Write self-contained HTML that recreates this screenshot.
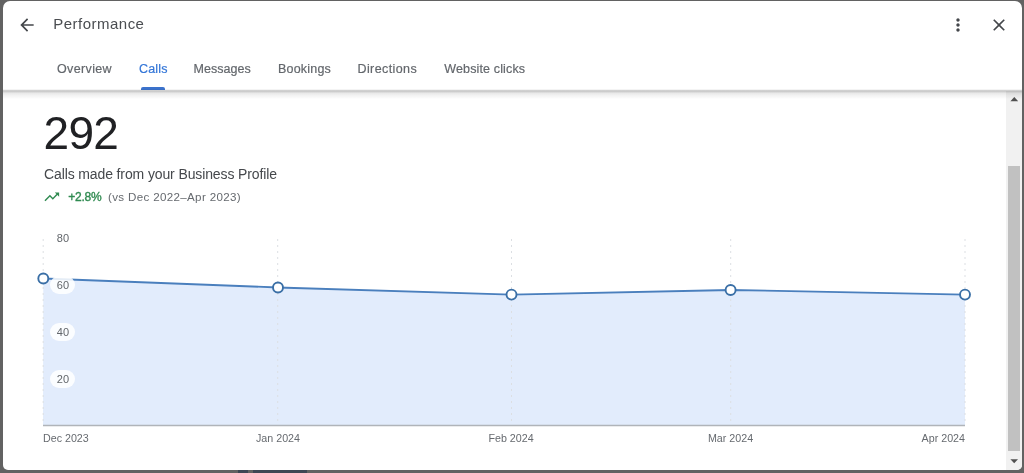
<!DOCTYPE html>
<html><head><meta charset="utf-8">
<style>
*{box-sizing:border-box;margin:0;padding:0}
html,body{width:1024px;height:473px;overflow:hidden;background:#626262;font-family:"Liberation Sans",sans-serif;}
#modal{will-change:transform;position:absolute;left:3px;top:1px;width:1019px;height:469px;background:#fff;border-radius:7px 7px 5px 5px;overflow:hidden}
.abs{position:absolute;white-space:nowrap}
#title{left:50.300px;top:13.300px;font-size:15px;color:#4a4d51;line-height:20px;letter-spacing:0.480px}
.tab{top:60px;font-size:12.500px;line-height:16px;color:#63676c;-webkit-text-stroke:0.200px #63676c}
#hdrline{left:0;top:88px;width:1019px;height:10px;z-index:5;background:linear-gradient(rgba(0,0,0,0) 0%,rgba(0,0,0,0.080) 9%,rgba(0,0,0,0.200) 16%,rgba(0,0,0,0.200) 25%,rgba(0,0,0,0.090) 42%,rgba(0,0,0,0.050) 62%,rgba(0,0,0,0.020) 88%,rgba(0,0,0,0) 100%)}
#ul{left:138px;top:86.200px;width:24px;height:3px;background:#3b72cc;border-radius:2px 2px 0 0}
#big{left:40.500px;top:105.300px;font-size:46px;line-height:54px;color:#202124;letter-spacing:-0.700px}
#sub{left:41px;top:164px;font-size:14px;line-height:18px;color:#45484c;letter-spacing:-0.120px}
#pct{left:65.300px;top:188.500px;font-size:12px;line-height:14px;color:#2f8a50;-webkit-text-stroke:0.350px #2f8a50;letter-spacing:-0.250px}
#vs{left:105px;top:188.500px;font-size:11.600px;line-height:14px;color:#666a6f;letter-spacing:0.330px}
.xl{top:431px;font-size:10.700px;line-height:13px;color:#666a6f;letter-spacing:0}
.yl{font-size:11px;line-height:18px;color:#62666b;width:25px;height:18px;border-radius:9px;background:rgba(255,255,255,0.86);text-align:center;left:47.400px}
#sbtrack{left:1003.400px;top:90px;width:15.600px;height:379px;background:#f1f1f1}
#sbthumb{left:1005.300px;top:165.300px;width:11.500px;height:284.600px;background:#c1c1c1}
</style></head><body>
<div class="abs" style="left:238px;top:470px;width:10px;height:3px;background:#3d4654"></div><div class="abs" style="left:253px;top:470px;width:54px;height:3px;background:#3d4654"></div>
<div id="modal">
  <svg class="abs" style="left:14.300px;top:13.600px" width="20" height="20" viewBox="0 0 24 24"><path d="M20 11H7.830l5.590-5.590L12 4l-8 8 8 8 1.410-1.410L7.830 13H20v-2z" fill="#44474b"/></svg>
  <div id="title" class="abs">Performance</div>
  <svg class="abs" style="left:945px;top:13.600px" width="20" height="20" viewBox="0 0 24 24"><path d="M12 8c1.100 0 2-.9 2-2s-.9-2-2-2-2 .9-2 2 .9 2 2 2zm0 2c-1.100 0-2 .9-2 2s.9 2 2 2 2-.9 2-2-.9-2-2-2zm0 6c-1.100 0-2 .9-2 2s.9 2 2 2 2-.9 2-2-.9-2-2-2z" fill="#44474b"/></svg>
  <svg class="abs" style="left:985.700px;top:13.700px" width="20" height="20" viewBox="0 0 24 24"><path d="M19 6.410L17.590 5 12 10.590 6.410 5 5 6.410 10.590 12 5 17.590 6.410 19 12 13.410 17.590 19 19 17.590 13.410 12z" fill="#44474b"/></svg>

  <div class="abs tab" style="left:54px;letter-spacing:0.360px">Overview</div>
  <div class="abs tab" style="left:136px;color:#3577d8;-webkit-text-stroke-color:#3577d8;letter-spacing:0.150px">Calls</div>
  <div class="abs tab" style="left:190.500px;letter-spacing:0.030px">Messages</div>
  <div class="abs tab" style="left:275px;letter-spacing:0.200px">Bookings</div>
  <div class="abs tab" style="left:354.500px;letter-spacing:0.400px">Directions</div>
  <div class="abs tab" style="left:441.300px;letter-spacing:0.140px">Website clicks</div>
  <div id="ul" class="abs"></div>
  <div id="hdrline" class="abs"></div>

  <div id="big" class="abs">292</div>
  <div id="sub" class="abs">Calls made from your Business Profile</div>
  <svg class="abs" style="left:40.300px;top:186.600px" width="17.600" height="17.600" viewBox="0 0 24 24"><path d="M16 6l2.290 2.290-4.880 4.880-4-4L2 16.590 3.410 18l6-6 4 4 6.300-6.290L22 12V6z" fill="#2f8a50"/></svg>
  <div id="pct" class="abs">+2.8%</div>
  <div id="vs" class="abs">(vs Dec 2022–Apr 2023)</div>

  <svg class="abs" style="left:0;top:0" width="1019" height="469" viewBox="3 1 1019 469">
    <path d="M43.300 278.500 L278 287.500 L511.500 294.600 L730.600 290 L965 294.600 L965 425 L43 425 Z" fill="#e2ecfc"/>
    <g stroke="#dcdfe3" stroke-width="1" stroke-dasharray="2 4" fill="none">
      <path d="M43.200 239V425M277.700 239V425M511.500 239V425M730.700 239V425M965 239V425"/>
    </g>
    <path d="M43 425.500H965" stroke="#b0b4b9" stroke-width="1.300"/>
    <path d="M43.300 278.500 L278 287.500 L511.500 294.600 L730.600 290 L965 294.600" fill="none" stroke="#4a7fbd" stroke-width="1.800"/>
    <g fill="#fff" stroke="#3a6fa6" stroke-width="1.900">
      <circle cx="43.300" cy="278.500" r="5"/><circle cx="278" cy="287.500" r="5"/><circle cx="511.500" cy="294.600" r="5"/><circle cx="730.600" cy="290" r="5"/><circle cx="965" cy="294.600" r="5"/>
    </g>
  </svg>
  <div class="abs yl" style="top:228px;background:none">80</div>
  <div class="abs yl" style="top:275px">60</div>
  <div class="abs yl" style="top:321.600px">40</div>
  <div class="abs yl" style="top:369px">20</div>

  <div class="abs xl" style="left:40px">Dec 2023</div>
  <div class="abs xl" style="left:275px;transform:translateX(-50%)">Jan 2024</div>
  <div class="abs xl" style="left:508px;transform:translateX(-50%)">Feb 2024</div>
  <div class="abs xl" style="left:727.500px;transform:translateX(-50%)">Mar 2024</div>
  <div class="abs xl" style="right:57px">Apr 2024</div>

  <div id="sbtrack" class="abs"></div>
  <div id="sbthumb" class="abs"></div>
  <svg class="abs" style="left:1003px;top:90px" width="16" height="379" viewBox="1006 91 16 379"><path d="M1010.400 101.200L1014.300 97.100l3.900 4.100z" fill="#505050"/><path d="M1010.400 459.300L1014.200 463.200l3.800-3.900z" fill="#505050"/></svg>
</div>
</body></html>
